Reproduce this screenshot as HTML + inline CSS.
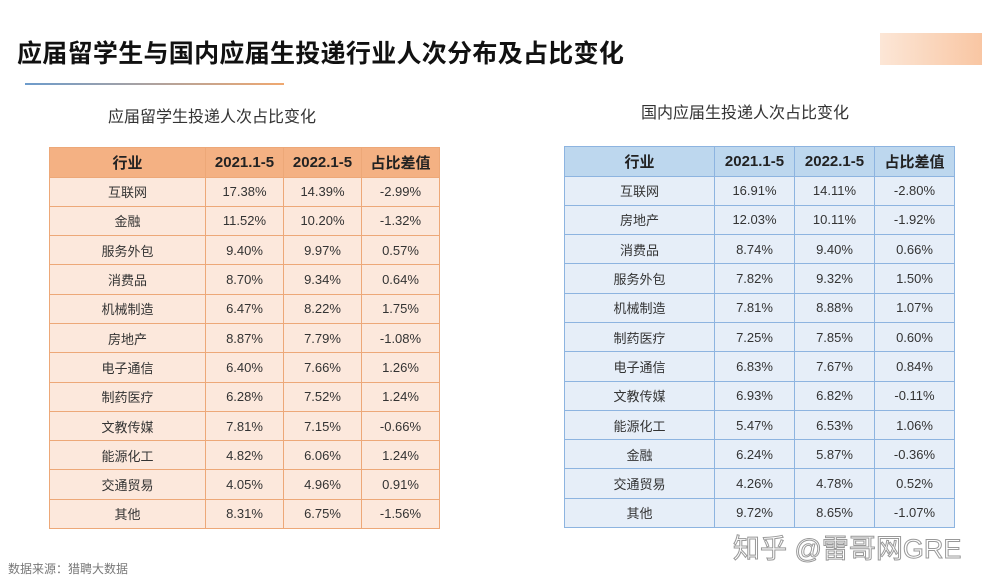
<!DOCTYPE html>
<html><head><meta charset="utf-8"><style>
*{margin:0;padding:0;box-sizing:border-box}
body{width:999px;height:587px;background:#fff;position:relative;overflow:hidden;font-family:"Liberation Sans","Noto Sans CJK SC",sans-serif}
.abs{position:absolute}
table{position:absolute;border-collapse:collapse;table-layout:fixed}
td,th{text-align:center;font-size:13px;color:#333;height:29.3px;padding:0}
th{font-size:15px;font-weight:bold;color:#222;height:29.5px}
.l td,.l th{border:1px solid #eda878}
.l th{background:#f4b183}
.l td{background:#fce8dc}
.r td,.r th{border:1px solid #8db4e0}
.r th{background:#bdd7ee}
.r td{background:#e6eef8}
</style></head><body>
<div class="abs" style="left:17px;top:34px;font-size:25px;font-weight:bold;color:#111;letter-spacing:0.3px">应届留学生与国内应届生投递行业人次分布及占比变化</div>
<div class="abs" style="left:25px;top:83px;width:259px;height:2px;background:linear-gradient(90deg,#6d9ccc,#f0a870)"></div>
<div class="abs" style="left:880px;top:33px;width:102px;height:32px;background:linear-gradient(90deg,#fbe0cc,#f7b88c);opacity:.8"></div>
<div class="abs" style="left:108px;top:103px;font-size:16px;color:#333">应届留学生投递人次占比变化</div>
<div class="abs" style="left:641px;top:99px;font-size:16px;color:#333">国内应届生投递人次占比变化</div>
<table class="l" style="left:49px;top:147px;width:390px">
<colgroup><col style="width:156px"><col style="width:78px"><col style="width:78px"><col style="width:78px"></colgroup>
<tr><th>行业</th><th>2021.1-5</th><th>2022.1-5</th><th>占比差值</th></tr>
<tr><td>互联网</td><td>17.38%</td><td>14.39%</td><td>-2.99%</td></tr>
<tr><td>金融</td><td>11.52%</td><td>10.20%</td><td>-1.32%</td></tr>
<tr><td>服务外包</td><td>9.40%</td><td>9.97%</td><td>0.57%</td></tr>
<tr><td>消费品</td><td>8.70%</td><td>9.34%</td><td>0.64%</td></tr>
<tr><td>机械制造</td><td>6.47%</td><td>8.22%</td><td>1.75%</td></tr>
<tr><td>房地产</td><td>8.87%</td><td>7.79%</td><td>-1.08%</td></tr>
<tr><td>电子通信</td><td>6.40%</td><td>7.66%</td><td>1.26%</td></tr>
<tr><td>制药医疗</td><td>6.28%</td><td>7.52%</td><td>1.24%</td></tr>
<tr><td>文教传媒</td><td>7.81%</td><td>7.15%</td><td>-0.66%</td></tr>
<tr><td>能源化工</td><td>4.82%</td><td>6.06%</td><td>1.24%</td></tr>
<tr><td>交通贸易</td><td>4.05%</td><td>4.96%</td><td>0.91%</td></tr>
<tr><td>其他</td><td>8.31%</td><td>6.75%</td><td>-1.56%</td></tr>
</table>
<table class="r" style="left:564px;top:146px;width:390px">
<colgroup><col style="width:150px"><col style="width:80px"><col style="width:80px"><col style="width:80px"></colgroup>
<tr><th>行业</th><th>2021.1-5</th><th>2022.1-5</th><th>占比差值</th></tr>
<tr><td>互联网</td><td>16.91%</td><td>14.11%</td><td>-2.80%</td></tr>
<tr><td>房地产</td><td>12.03%</td><td>10.11%</td><td>-1.92%</td></tr>
<tr><td>消费品</td><td>8.74%</td><td>9.40%</td><td>0.66%</td></tr>
<tr><td>服务外包</td><td>7.82%</td><td>9.32%</td><td>1.50%</td></tr>
<tr><td>机械制造</td><td>7.81%</td><td>8.88%</td><td>1.07%</td></tr>
<tr><td>制药医疗</td><td>7.25%</td><td>7.85%</td><td>0.60%</td></tr>
<tr><td>电子通信</td><td>6.83%</td><td>7.67%</td><td>0.84%</td></tr>
<tr><td>文教传媒</td><td>6.93%</td><td>6.82%</td><td>-0.11%</td></tr>
<tr><td>能源化工</td><td>5.47%</td><td>6.53%</td><td>1.06%</td></tr>
<tr><td>金融</td><td>6.24%</td><td>5.87%</td><td>-0.36%</td></tr>
<tr><td>交通贸易</td><td>4.26%</td><td>4.78%</td><td>0.52%</td></tr>
<tr><td>其他</td><td>9.72%</td><td>8.65%</td><td>-1.07%</td></tr>
</table>
<div class="abs" style="left:733px;top:527px;font-size:27px;color:#fff;-webkit-text-stroke:1px #999">知乎 @雷哥网GRE</div>
<div class="abs" style="left:8px;top:560px;font-size:12px;color:#777">数据来源：猎聘大数据</div>
</body></html>
